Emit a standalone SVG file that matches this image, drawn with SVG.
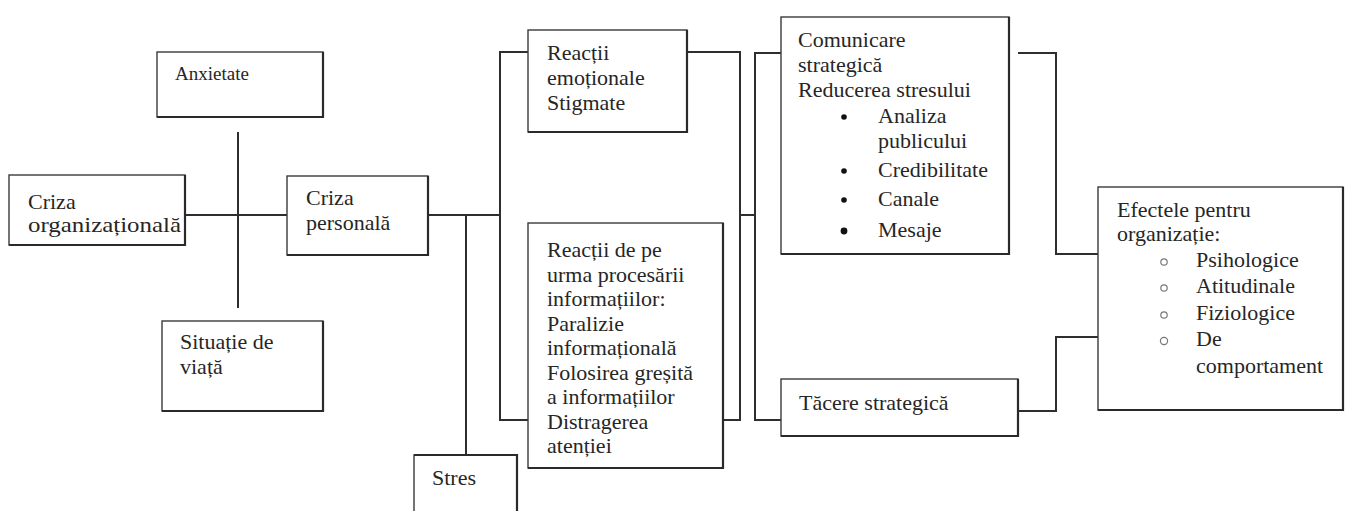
<svg xmlns="http://www.w3.org/2000/svg" width="1346" height="511" viewBox="0 0 1346 511">
<style>
  .box { fill: #ffffff; stroke: #3a3a3a; stroke-width: 1.4; }
  .sh { fill: none; stroke: #2a2a2a; stroke-width: 2.2; }
  text { font-family: 'Liberation Serif', 'DejaVu Serif', serif; font-size: 22px; fill: #262626; }
  .conn { fill: none; stroke: #2e2e2e; stroke-width: 2; }
  .dot { fill: #111111; }
  .ring { fill: none; stroke: #777777; stroke-width: 1.2; }
</style>
<rect width="1346" height="511" fill="#ffffff"/>

<g id="connectors">
  <path class="conn" d="M238,132 V308"/>
  <path class="conn" d="M185,215 H287"/>
  <path class="conn" d="M428,215 H500"/>
  <path class="conn" d="M466,215 V455"/>
  <path class="conn" d="M528,52 H500 V420 H528"/>
  <path class="conn" d="M687,52 H740 V420 H723"/>
  <path class="conn" d="M740,215 H755"/>
  <path class="conn" d="M781,53 H755 V420 H781"/>
  <path class="conn" d="M1018,53 H1056 V254 H1098"/>
  <path class="conn" d="M1018,411 H1056 V337 H1098"/>
</g>

<g id="anxietate">
  <rect class="box" x="157" y="52" width="166" height="65"/>
  <path class="sh" d="M157,117 H323 V52"/>
  <text x="175" y="80" style="font-size:19px">Anxietate</text>
</g>

<g id="criza-organizationala">
  <rect class="box" x="9" y="175" width="176" height="70"/>
  <path class="sh" d="M9,245 H185 V175"/>
  <text x="28" y="209">Criza</text>
  <text x="28" y="232" textLength="153" lengthAdjust="spacingAndGlyphs">organizațională</text>
</g>

<g id="criza-personala">
  <rect class="box" x="287" y="176" width="141" height="79"/>
  <path class="sh" d="M287,255 H428 V176"/>
  <text x="306" y="205">Criza</text>
  <text x="306" y="230">personală</text>
</g>

<g id="situatie-de-viata">
  <rect class="box" x="162" y="321" width="161" height="90"/>
  <path class="sh" d="M162,411 H323 V321"/>
  <text x="180" y="349">Situație de</text>
  <text x="180" y="374">viață</text>
</g>

<g id="stres">
  <rect class="box" x="414" y="455" width="103" height="70"/>
  <path class="sh" d="M414,455 H517 V525"/>
  <text x="432" y="485">Stres</text>
</g>

<g id="reactii-emotionale">
  <rect class="box" x="528" y="30" width="159" height="102"/>
  <path class="sh" d="M528,132 H687 V30"/>
  <text x="547" y="60">Reacții</text>
  <text x="547" y="85">emoționale</text>
  <text x="547" y="110">Stigmate</text>
</g>

<g id="reactii-informatii">
  <rect class="box" x="528" y="223" width="195" height="245"/>
  <path class="sh" d="M528,468 H723 V223"/>
  <text x="547" y="257">Reacții de pe</text>
  <text x="547" y="281.5">urma procesării</text>
  <text x="547" y="306">informațiilor:</text>
  <text x="547" y="330.5">Paralizie</text>
  <text x="547" y="355">informațională</text>
  <text x="547" y="379.5">Folosirea greșită</text>
  <text x="547" y="404">a informațiilor</text>
  <text x="547" y="428.5">Distragerea</text>
  <text x="547" y="453">atenției</text>
</g>

<g id="comunicare-strategica">
  <rect class="box" x="781" y="17" width="228" height="237"/>
  <path class="sh" d="M781,254 H1009 V17"/>
  <text x="798" y="47">Comunicare</text>
  <text x="798" y="72">strategică</text>
  <text x="798" y="97">Reducerea stresului</text>
  <circle class="dot" cx="844" cy="117" r="2.8"/>
  <text x="878" y="123">Analiza</text>
  <text x="878" y="148">publicului</text>
  <circle class="dot" cx="844" cy="171" r="2.8"/>
  <text x="878" y="177">Credibilitate</text>
  <circle class="dot" cx="844" cy="200" r="2.8"/>
  <text x="878" y="206">Canale</text>
  <circle class="dot" cx="844" cy="231" r="3.4"/>
  <text x="878" y="237">Mesaje</text>
</g>

<g id="tacere-strategica">
  <rect class="box" x="781" y="379" width="237" height="57"/>
  <path class="sh" d="M781,436 H1018 V379"/>
  <text x="799" y="410">Tăcere strategică</text>
</g>

<g id="efectele">
  <rect class="box" x="1098" y="187" width="245" height="223"/>
  <path class="sh" d="M1098,410 H1343 V187"/>
  <text x="1117" y="217">Efectele pentru</text>
  <text x="1117" y="241">organizație:</text>
  <circle class="ring" cx="1164" cy="262" r="3.2"/>
  <text x="1196" y="267">Psihologice</text>
  <circle class="ring" cx="1164" cy="288" r="3.2"/>
  <text x="1196" y="293">Atitudinale</text>
  <circle class="ring" cx="1164" cy="315" r="3.2"/>
  <text x="1196" y="320">Fiziologice</text>
  <circle class="ring" cx="1164" cy="341" r="3.6"/>
  <text x="1196" y="346">De</text>
  <text x="1196" y="373">comportament</text>
</g>
</svg>
